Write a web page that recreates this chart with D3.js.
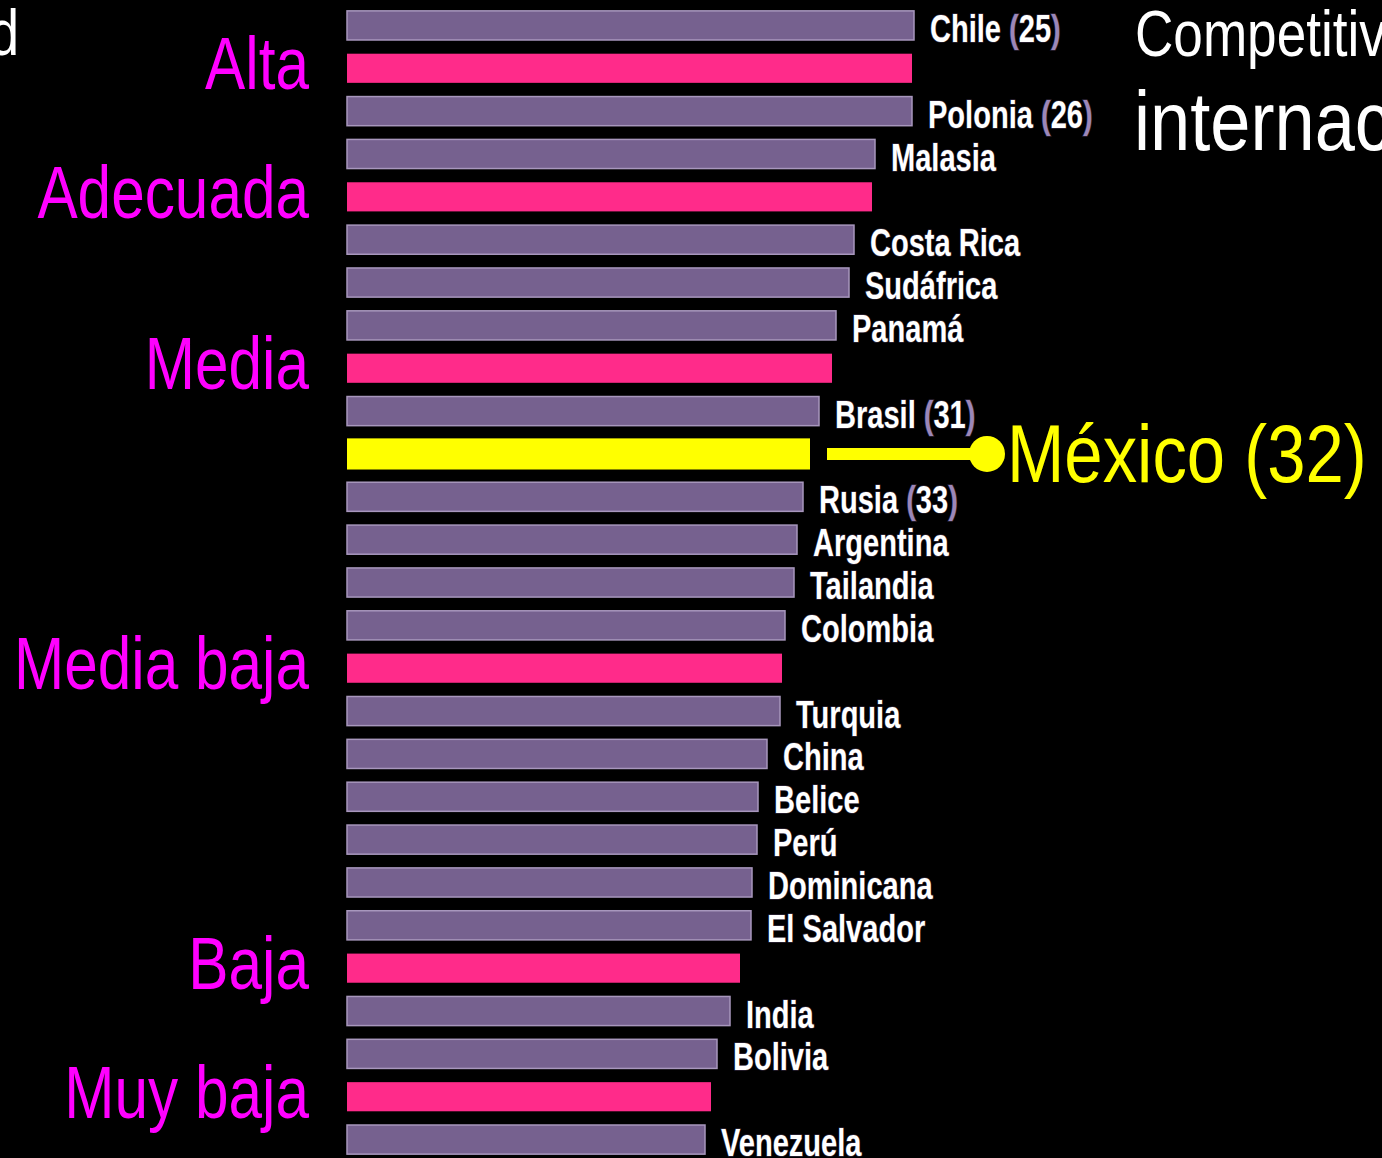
<!DOCTYPE html>
<html>
<head>
<meta charset="utf-8">
<script src="https://cdn.jsdelivr.net/npm/d3@7"></script>
<style>
  html, body { margin: 0; padding: 0; background: #000; overflow: hidden; }
  svg { display: block; }
</style>
</head>
<body>
<div id="chart"></div>
<script>
// rows of the ranking, top to bottom
var rowNames = ["Chile", "Alta", "Polonia", "Malasia", "Adecuada", "Costa Rica", "Sudáfrica",
    "Panamá", "Media", "Brasil", "México", "Rusia", "Argentina", "Tailandia", "Colombia",
    "Media baja", "Turquia", "China", "Belice", "Perú", "Dominicana", "El Salvador", "Baja",
    "India", "Bolivia", "Muy baja", "Venezuela"];

// pais = country, nivel = level marker (pink), mexico = highlighted
var rowKinds = ["pais", "nivel", "pais", "pais", "nivel", "pais", "pais",
    "pais", "nivel", "pais", "mexico", "pais", "pais", "pais", "pais",
    "nivel", "pais", "pais", "pais", "pais", "pais", "pais", "nivel",
    "pais", "pais", "nivel", "pais"];

// index values
var rowValues = [56.7, 56.5, 56.5, 52.8, 52.5, 50.7, 50.2,
    48.9, 48.5, 47.2, 46.3, 45.6, 45.0, 44.7, 43.8,
    43.5, 43.3, 42.0, 41.1, 41.0, 40.5, 40.4, 39.3,
    38.3, 37.0, 36.4, 35.8];

// place in the ranking, when shown
var rowRanks = [25, null, 26, null, null, null, null,
    null, null, 31, 32, 33, null, null, null,
    null, null, null, null, null, null, null, null,
    null, null, null, null];

var width = 1382;
var height = 1158;
var font = '"Liberation Sans", Arial, sans-serif';

var data = rowNames.map(function (name, i) {
    return { name: name, kind: rowKinds[i], value: rowValues[i], rank: rowRanks[i] };
});

var svg = d3.select('#chart')
    .append('svg')
    .attr('width', width)
    .attr('height', height);

svg.append('rect')
    .attr('width', width)
    .attr('height', height)
    .attr('fill', '#000');

var xScale = d3.scaleLinear()
    .domain([0, 100])
    .range([347, 1347]);

var yScale = d3.scaleBand()
    .domain(rowNames)
    .range([4, 1161])
    .paddingInner(0.32)
    .paddingOuter(0.16);

var fills = { pais: '#76618f', nivel: '#ff2b8a', mexico: '#ffff00' };

// bars (the Mexico one is a touch taller)
svg.selectAll('rect.bar')
    .data(data)
    .enter()
    .append('rect')
        .attr('class', 'bar')
        .attr('x', xScale(0))
        .attr('y', function (d) { return yScale(d.name) - (d.kind == 'mexico' ? 1 : 0); })
        .attr('width', function (d) { return xScale(d.value) - xScale(0); })
        .attr('height', function (d) { return yScale.bandwidth() + (d.kind == 'mexico' ? 2 : 0); })
        .attr('fill', function (d) { return fills[d.kind]; })
        .attr('stroke', function (d) { return d.kind == 'pais' ? '#a897bd' : 'none'; })
        .attr('stroke-width', 1.5);

// country labels (squeezed horizontally, the original font is condensed)
var labels = svg.selectAll('text.pais')
    .data(data.filter(function (d) { return d.kind == 'pais'; }))
    .enter()
    .append('text')
        .attr('class', 'pais')
        .attr('transform', function (d) {
            return 'translate(' + (xScale(d.value) + 16) + ',' +
                (yScale(d.name) + yScale.bandwidth() + 2) + ') scale(0.745,1)';
        })
        .attr('font-family', font)
        .attr('font-weight', 'bold')
        .attr('font-size', 39)
        .attr('fill', '#fff')
        .attr('stroke', '#2a2233')
        .attr('stroke-width', 1.5)
        .attr('paint-order', 'stroke');

labels.append('tspan').text(function (d) { return d.name; });
labels.filter(function (d) { return d.rank != null; })
    .each(function (d) {
        var t = d3.select(this);
        t.append('tspan').attr('fill', '#9c87b8').text(' (');
        t.append('tspan').text(d.rank);
        t.append('tspan').attr('fill', '#9c87b8').text(')');
    });

// level labels on the left
svg.selectAll('text.nivel')
    .data(data.filter(function (d) { return d.kind == 'nivel'; }))
    .enter()
    .append('text')
        .attr('class', 'nivel')
        .attr('transform', function (d) {
            return 'translate(309,' + (yScale(d.name) + yScale.bandwidth() / 2 + 21) + ') scale(0.815,1)';
        })
        .attr('text-anchor', 'end')
        .attr('font-family', font)
        .attr('font-size', 74)
        .attr('fill', '#ff00ff')
        .text(function (d) { return d.name; });

// Mexico callout
var mex = data.filter(function (d) { return d.kind == 'mexico'; })[0];
var my = yScale(mex.name) + yScale.bandwidth() / 2;
var lineX0 = xScale(mex.value) + 17;
var dotX = lineX0 + 160;

svg.append('line')
    .attr('x1', lineX0)
    .attr('x2', dotX)
    .attr('y1', my)
    .attr('y2', my)
    .attr('stroke', '#ffff00')
    .attr('stroke-width', 12);

svg.append('circle')
    .attr('cx', dotX)
    .attr('cy', my)
    .attr('r', 18)
    .attr('fill', '#ffff00');

svg.append('text')
    .attr('transform', 'translate(' + (dotX + 20) + ',' + (my + 28) + ') scale(0.84,1)')
    .attr('font-family', font)
    .attr('font-size', 82)
    .attr('fill', '#ffff00')
    .text(mex.name + ' (' + mex.rank + ')');

// title pieces cut off at the edges
svg.append('text')
    .attr('transform', 'translate(1135,56) scale(0.83,1)')
    .attr('font-family', font)
    .attr('font-size', 64)
    .attr('fill', '#fff')
    .text('Competitividad');

svg.append('text')
    .attr('transform', 'translate(1134,150) scale(0.86,1)')
    .attr('font-family', font)
    .attr('font-size', 84)
    .attr('fill', '#fff')
    .text('internacional');

svg.append('text')
    .attr('transform', 'translate(19,55) scale(0.83,1)')
    .attr('text-anchor', 'end')
    .attr('font-family', font)
    .attr('font-size', 64)
    .attr('fill', '#fff')
    .text('Competitividad');
</script>
</body>
</html>
